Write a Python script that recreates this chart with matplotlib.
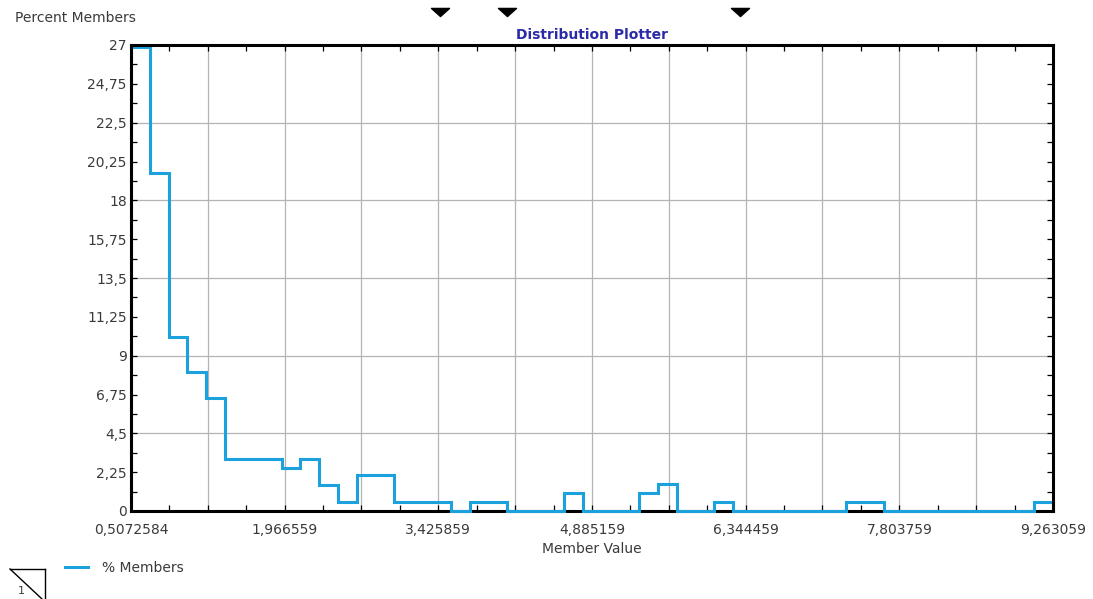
import numpy as np
import matplotlib
matplotlib.use('Agg')
import matplotlib.pyplot as plt
from matplotlib.lines import Line2D
from matplotlib.path import Path
from matplotlib.transforms import blended_transform_factory

# axis range of member values
X_MIN = 0.5072584
X_MAX = 9.263059
X_LABEL_STEP = 1.4593

# percent of members per bin (49 equal bins between X_MIN and X_MAX)
percent_members = [26.9, 19.6, 10.1, 8.07, 6.56, 3.03, 3.03, 3.03, 2.5, 3.03,
                   1.53, 0.55, 2.08, 2.08, 0.55, 0.55, 0.55, 0.0, 0.55, 0.55,
                   0.0, 0.0, 0.0, 1.04, 0.0, 0.0, 0.0, 1.04, 1.56, 0.0,
                   0.0, 0.55, 0.0, 0.0, 0.0, 0.0, 0.0, 0.0, 0.55, 0.55,
                   0.0, 0.0, 0.0, 0.0, 0.0, 0.0, 0.0, 0.0, 0.55]

x_tick_labels = ['0,5072584', '1,966559', '3,425859', '4,885159',
                 '6,344459', '7,803759', '9,263059']
y_tick_labels = ['0', '2,25', '4,5', '6,75', '9', '11,25', '13,5',
                 '15,75', '18', '20,25', '22,5', '24,75', '27']

# black slider markers above the plot
marker_values = [3.441, 4.075, 6.288]

LINE_COLOR = '#1BA1DC'
TEXT_COLOR = '#3a3a3a'
FONT_SIZE = 10

plt.rcParams['font.family'] = 'DejaVu Sans'

fig = plt.figure(figsize=(10.93, 5.99), dpi=100)
ax = fig.add_axes([131 / 1093, 1 - 511 / 599, 922 / 1093, 466 / 599])

edges = np.linspace(X_MIN, X_MAX, len(percent_members) + 1)
ax.stairs(percent_members, edges, baseline=0, color=LINE_COLOR, linewidth=2.2,
          zorder=3, clip_on=False, label='% Members')

ax.set_xlim(X_MIN, X_MAX)
ax.set_ylim(0, 27)

# ticks
x_major = X_MIN + X_LABEL_STEP * np.arange(len(x_tick_labels))
ax.set_xticks(x_major)
ax.set_xticklabels(x_tick_labels)
ax.set_xticks(X_MIN + X_LABEL_STEP / 4 * np.arange(4 * (len(x_tick_labels) - 1) + 1), minor=True)
y_major = 2.25 * np.arange(len(y_tick_labels))
ax.set_yticks(y_major)
ax.set_yticklabels(y_tick_labels)
ax.set_yticks(1.125 * np.arange(2 * len(y_tick_labels) - 1), minor=True)

ax.tick_params(which='both', direction='in', top=True, right=True,
               length=4.5, width=0.9, color='black')
ax.tick_params(axis='x', which='major', pad=9, labelsize=FONT_SIZE, labelcolor=TEXT_COLOR)
ax.tick_params(axis='y', which='major', pad=3, labelsize=FONT_SIZE, labelcolor=TEXT_COLOR)

# grid every half label step on x, every 4.5 on y
for gx in X_MIN + X_LABEL_STEP / 2 * np.arange(1, 2 * (len(x_tick_labels) - 1)):
    ax.axvline(gx, color='#b4b4b4', linewidth=0.9, zorder=1)
for gy in 4.5 * np.arange(1, 6):
    ax.axhline(gy, color='#b4b4b4', linewidth=0.9, zorder=1)

for name, sp in ax.spines.items():
    sp.set_linewidth(2.2)
    sp.set_color('black')
    # the zero line of the series sits over the bottom spine, the frame stays on top elsewhere
    sp.set_zorder(2.5 if name == 'bottom' else 4)

ax.set_title('Distribution Plotter', color='#2b2ba8', fontsize=FONT_SIZE,
             fontweight='bold', pad=4)
ax.set_xlabel('Member Value', fontsize=FONT_SIZE, color=TEXT_COLOR, labelpad=3)
fig.text(15 / 1093, 1 - 18 / 599, 'Percent Members', fontsize=FONT_SIZE,
         color=TEXT_COLOR, ha='left', va='center')

# slider markers
tri = Path([(-1, 0.45), (1, 0.45), (0, -0.45), (-1, 0.45)],
           [Path.MOVETO, Path.LINETO, Path.LINETO, Path.CLOSEPOLY])
trans = blended_transform_factory(ax.transData, fig.transFigure)
ax.plot(marker_values, [1 - 12 / 599] * len(marker_values), linestyle='none',
        marker=tri, markersize=13, color='black', transform=trans, clip_on=False)

# legend
fig.legend(loc='center left', bbox_to_anchor=(65 / 1093, 1 - 568 / 599),
           frameon=False, fontsize=FONT_SIZE, labelcolor=TEXT_COLOR,
           handlelength=1.65, handletextpad=1.0, borderpad=0, borderaxespad=0,
           handles=[Line2D([], [], color=LINE_COLOR, linewidth=2.2)],
           labels=['% Members'])

# small page icon at bottom left
def px(x, y):
    return x / 1093, 1 - y / 599

for (x0, y0), (x1, y1) in [((10, 569), (45, 569)), ((45, 569), (45, 599)),
                           ((10, 569), (42, 599))]:
    a, b = px(x0, y0)
    c, d = px(x1, y1)
    fig.add_artist(Line2D([a, c], [b, d], color='black', linewidth=1,
                          transform=fig.transFigure))
fig.text(*px(21, 591), '1', fontsize=8, color=TEXT_COLOR, ha='center', va='center')

fig.savefig('out.png', dpi=100)
